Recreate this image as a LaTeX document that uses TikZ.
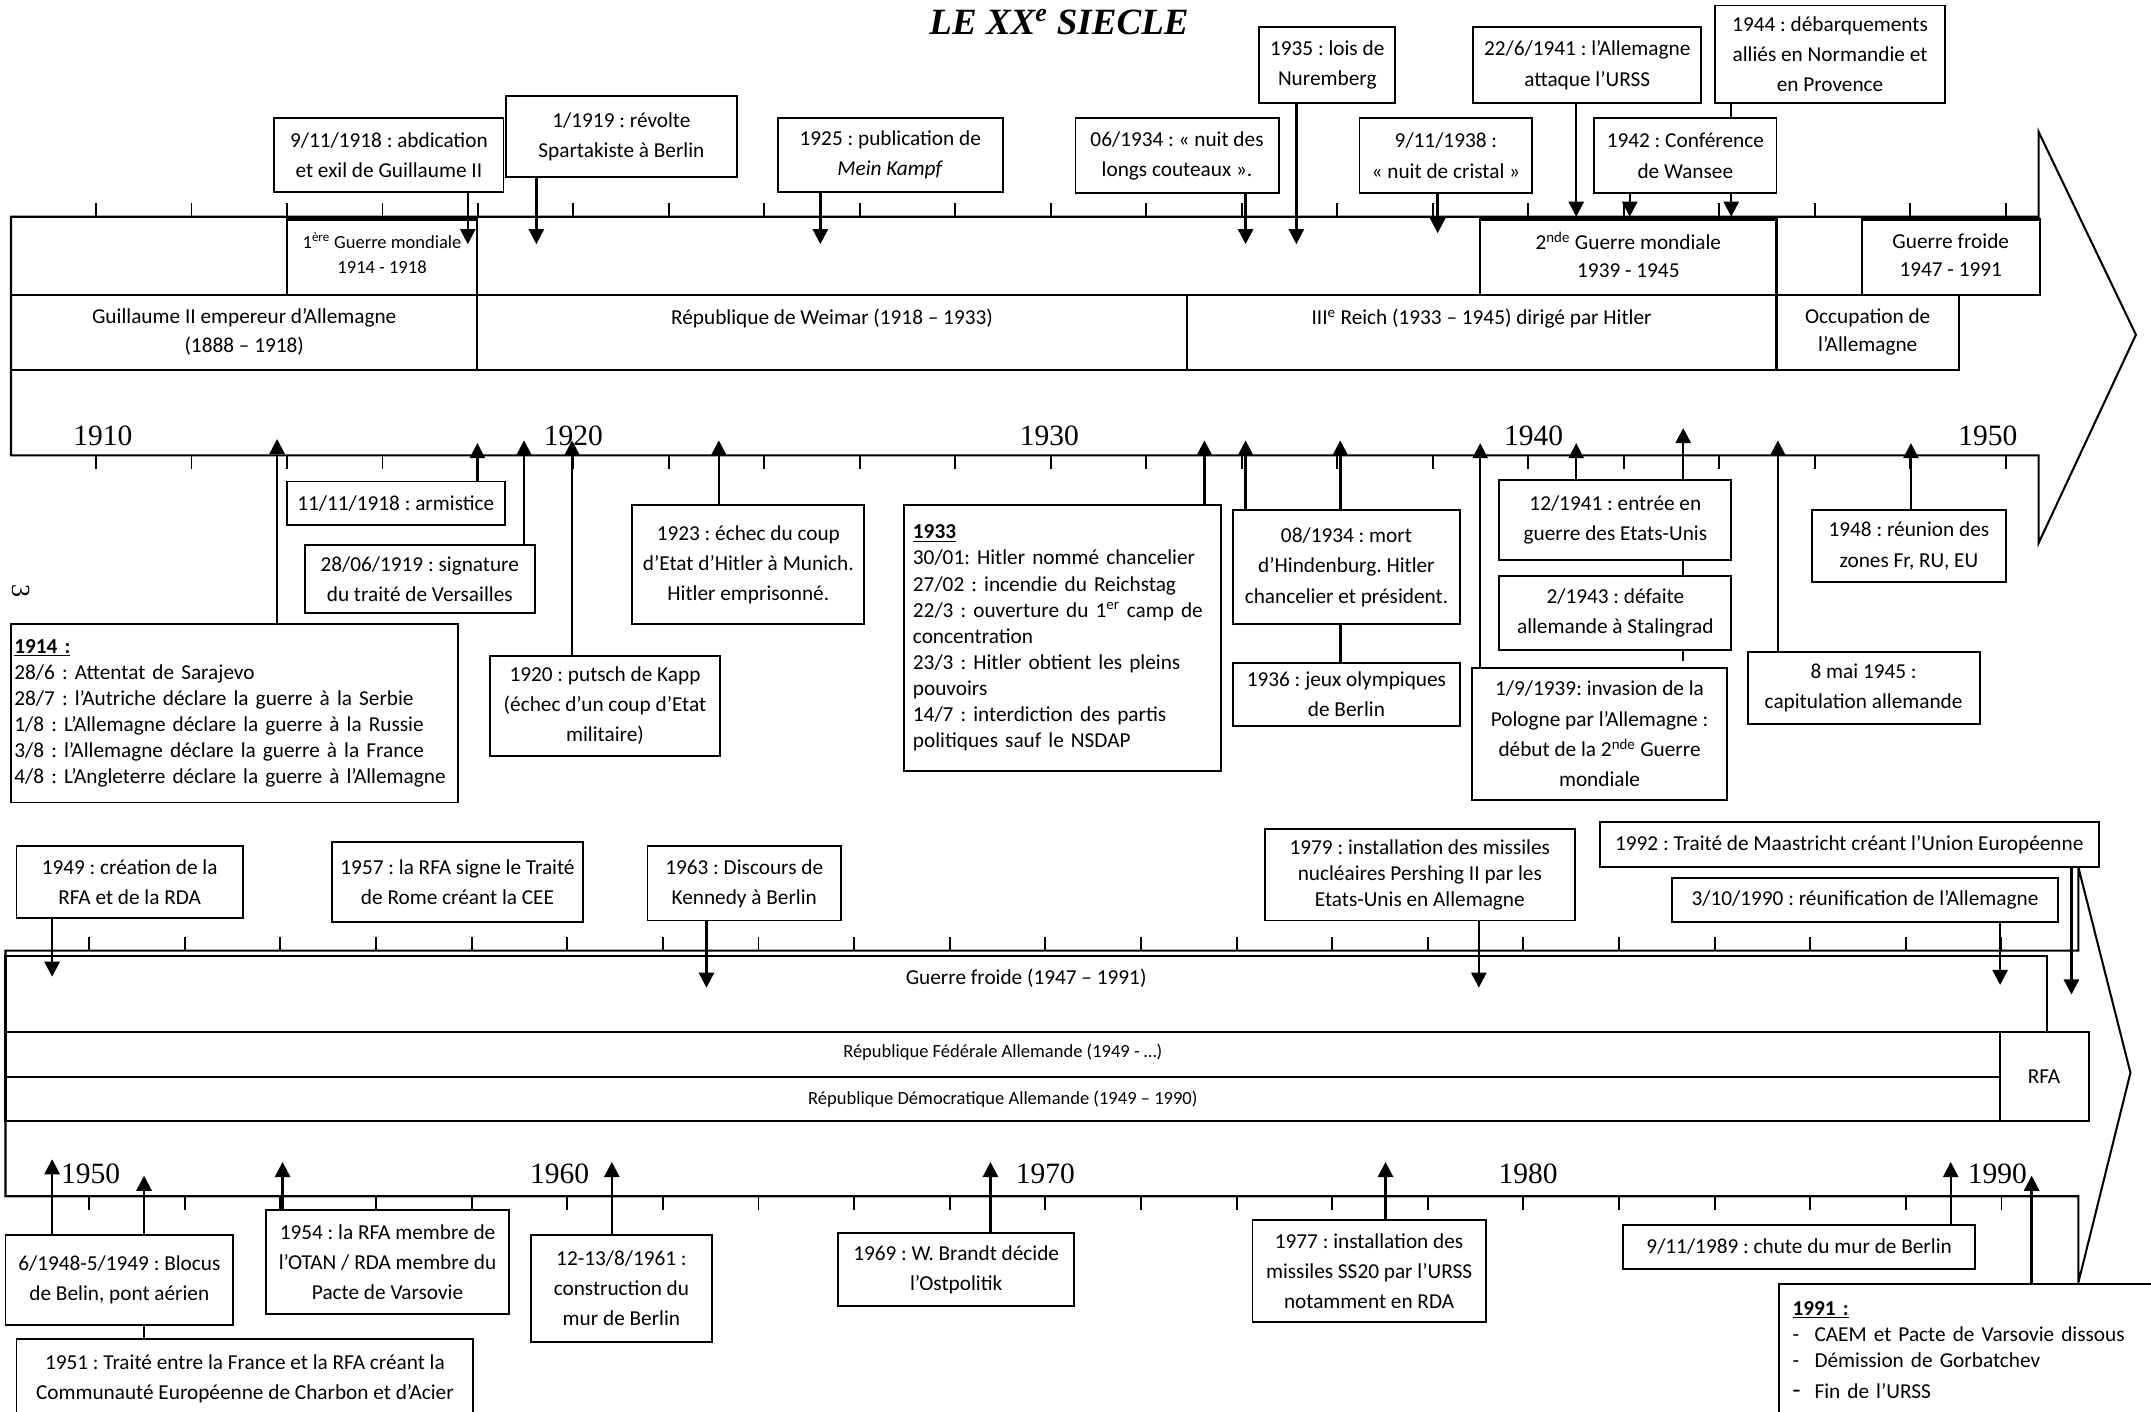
\documentclass[tikz,border=0pt]{standalone}
\usepackage{fontspec}
\setmainfont{Carlito}
\newfontfamily\seriffont{Liberation Serif}
\usetikzlibrary{arrows.meta,backgrounds}
\frenchspacing
\newcommand\evf{\fontsize{15.5}{22}\selectfont}
\newcommand\cellf{\fontsize{15.5}{20.5}\selectfont}
\newcommand\lsf{\fontsize{15.5}{19}\selectfont}
\newcommand\smf{\fontsize{13.5}{18}\selectfont}
\newcommand\yrf{\seriffont\fontsize{21.5}{22}\selectfont}
\begin{document}
\begin{tikzpicture}[x=1pt,y=-1pt,
  box/.style={draw, fill=white, line width=1.4pt, inner sep=0pt, align=center, font=\evf},
  lab/.style={inner sep=0pt, align=center, font=\cellf},
  arr/.style={line width=1.8pt, -{Triangle[length=11pt,width=11pt]}},
  frame/.style={line width=1.5pt},
  tickmark/.style={line width=1.4pt},
  yr/.style={inner sep=0pt, font=\yrf}]
\useasboundingbox (0,0) rectangle (1568,1029);

% title
\node[inner sep=0pt, font=\seriffont\bfseries\itshape\fontsize{27}{27}\selectfont] (title) at (772,16) {LE XX\textsuperscript{e} SIECLE};
\node[inner sep=0pt, rotate=-90, font=\seriffont\fontsize{19}{19}\selectfont] (pg) at (15,431) {3};

% ---------- upper time line ----------
\draw[frame] (8,158) -- (1486,158) -- (1486,96) -- (1557,244) -- (1486,396) -- (1486,332) -- (8,332) -- cycle;
\draw[frame] (209,160) rectangle (348,215);
\draw[frame] (1079,160) rectangle (1295,215);
\draw[frame] (1357,160) rectangle (1487,215);
\draw[frame] (8,215) -- (1487,215);
\draw[frame] (8,270) -- (1428,270) -- (1428,215);
\draw[frame] (348,215) -- (348,270);
\draw[frame] (865,215) -- (865,270);
\draw[frame] (1295,215) -- (1295,270);

\foreach \k in {0,...,20}{
  \draw[tickmark] ({70+69.6*\k},148) -- ({70+69.6*\k},158);
  \draw[tickmark] ({70+69.6*\k},332) -- ({70+69.6*\k},342);
  \draw[tickmark] ({65+69.7*\k},683) -- ({65+69.7*\k},693);
  \draw[tickmark] ({65+69.7*\k},872) -- ({65+69.7*\k},882);
}

\node[lab, font=\smf] (c1) at (278.5,184.5) {1\textsuperscript{ère} Guerre mondiale\\1914 - 1918};
\node[lab] (c2) at (1187,186) {2\textsuperscript{nde} Guerre mondiale\\1939 - 1945};
\node[lab] (c3) at (1422,186) {Guerre froide\\1947 - 1991};
\node[lab] (c4) at (178,242) {Guillaume II empereur d’Allemagne\\(1888 – 1918)};
\node[lab] (c5) at (606.5,232) {République de Weimar (1918 – 1933)};
\node[lab] (c6) at (1080,232) {III\textsuperscript{e} Reich (1933 – 1945) dirigé par Hitler};
\node[lab] (c7) at (1361.5,242) {Occupation de\\l’Allemagne};

\node[yr] (y1910) at (75,318) {1910};
\node[yr] (y1920) at (418,318) {1920};
\node[yr] (y1930) at (765,318) {1930};
\node[yr] (y1940) at (1118,318) {1940};
\node[yr] (y1950) at (1449,318) {1950};

% events above
\node[box, minimum width=167pt, minimum height=54pt] (n1) at (283.5,113) {9/11/1918 : abdication\\et exil de Guillaume II};
\node[box, minimum width=168pt, minimum height=59pt] (n2) at (453,99.5) {1/1919 : révolte\\Spartakiste à Berlin};
\node[box, minimum width=164pt, minimum height=54pt] (n3) at (649,113) {1925 : publication de\\\textit{Mein Kampf}};
\node[box, minimum width=148pt, minimum height=55pt] (n4) at (858,113.5) {06/1934 : « nuit des\\longs couteaux ».};
\node[box, minimum width=99pt, minimum height=55pt] (n5) at (967.5,47.5) {1935 : lois de\\Nuremberg};
\node[box, minimum width=126pt, minimum height=55pt] (n6) at (1054,113.5) {9/11/1938 :\\« nuit de cristal »};
\node[box, minimum width=166pt, minimum height=55pt] (n7) at (1157,47.5) {22/6/1941 : l’Allemagne\\attaque l’URSS};
\node[box, minimum width=168pt, minimum height=71pt] (n8) at (1334,39.5) {1944 : débarquements\\alliés en Normandie et\\en Provence};
\node[box, minimum width=133pt, minimum height=55pt] (n9) at (1228.5,113.5) {1942 : Conférence\\de Wansee};

% events below
\node[box, text width=321pt, minimum width=326pt, minimum height=130pt, align=left, font=\lsf] (b1) at (171,520) {\underline{\textbf{1914 :}}\\28/6 : Attentat de Sarajevo\\28/7 : l’Autriche déclare la guerre à la Serbie\\1/8 : L’Allemagne déclare la guerre à la Russie\\3/8 : l’Allemagne déclare la guerre à la France\\4/8 : L’Angleterre déclare la guerre à l’Allemagne};
\node[box, minimum width=159pt, minimum height=32pt] (b2) at (288.5,367) {11/11/1918 : armistice};
\node[box, minimum width=168pt, minimum height=50pt] (b3) at (306,422) {28/06/1919 : signature\\du traité de Versailles};
\node[box, minimum width=168pt, minimum height=73pt] (b4) at (441,514.5) {1920 : putsch de Kapp\\(échec d’un coup d’Etat\\militaire)};
\node[box, minimum width=169pt, minimum height=87pt] (b5) at (545.5,411.5) {1923 : échec du coup\\d’Etat d’Hitler à Munich.\\Hitler emprisonné.};
\node[box, text width=218pt, minimum width=231pt, minimum height=194pt, align=left, font=\lsf] (b6) at (774.5,465) {\underline{\textbf{1933}}\\30/01: Hitler nommé chancelier\\27/02 : incendie du Reichstag\\\makebox[218pt][s]{22/3 : ouverture du 1\textsuperscript{er} camp de}\\concentration\\\makebox[218pt][s]{23/3 : Hitler obtient les pleins}\\pouvoirs\\\makebox[218pt][s]{14/7 : interdiction des partis}\\politiques sauf le NSDAP};
\node[box, minimum width=165pt, minimum height=83pt] (b7) at (981.5,413.5) {08/1934 : mort\\d’Hindenburg. Hitler\\chancelier et président.};
\node[box, minimum width=165pt, minimum height=46pt] (b8) at (981.5,506) {1936 : jeux olympiques\\de Berlin};
\node[box, minimum width=186pt, minimum height=96pt] (b9) at (1166,535) {1/9/1939: invasion de la\\Pologne par l’Allemagne :\\début de la 2\textsuperscript{nde} Guerre\\mondiale};
\node[box, minimum width=169pt, minimum height=58pt] (b10) at (1177.5,379) {12/1941 : entrée en\\guerre des Etats-Unis};
\node[box, minimum width=169pt, minimum height=54pt] (b11) at (1177.5,447) {2/1943 : défaite\\allemande à Stalingrad};
\node[box, minimum width=169pt, minimum height=53pt] (b12) at (1358.5,501.5) {8 mai 1945 :\\capitulation allemande};
\node[box, minimum width=141pt, minimum height=52pt] (b13) at (1391.5,398) {1948 : réunion des\\zones Fr, RU, EU};

% ---------- lower time line ----------
\draw[frame] (4,693) -- (1515,693) -- (1515,632) -- (1553,782) -- (1515,935) -- (1515,872) -- (4,872) -- cycle;
\draw[frame] (4,697) rectangle (1492,752);
\draw[frame] (4,752) rectangle (1458,785);
\draw[frame] (4,785) rectangle (1458,817);
\draw[frame] (1458,752) rectangle (1523,817);

\node[lab] (gf) at (748,713) {Guerre froide (1947 – 1991)};
\node[lab, font=\smf] (rfa) at (731,767) {République Fédérale Allemande (1949 - …)};
\node[lab, font=\smf] (rda) at (731,801) {République Démocratique Allemande (1949 – 1990)};
\node[lab] (rfab) at (1490,785) {RFA};

\node[yr] (y2a) at (66,856) {1950};
\node[yr] (y2b) at (408,856) {1960};
\node[yr] (y2c) at (762,856) {1970};
\node[yr] (y2d) at (1114,856) {1980};
\node[yr] (y2e) at (1456,856) {1990};

\node[box, minimum width=165pt, minimum height=52pt] (d1) at (94.5,643) {1949 : création de la\\RFA et de la RDA};
\node[box, minimum width=183pt, minimum height=58pt] (d2) at (333.5,643) {1957 : la RFA signe le Traité\\de Rome créant la CEE};
\node[box, minimum width=141pt, minimum height=54pt] (d3) at (542.5,644) {1963 : Discours de\\Kennedy à Berlin};
\node[box, minimum width=226pt, minimum height=67pt, font=\lsf] (d4) at (1035,637.5) {1979 : installation des missiles\\nucléaires Pershing II par les\\Etats-Unis en Allemagne};
\node[box, minimum width=364pt, minimum height=33pt] (d5) at (1348,615.5) {1992 : Traité de Maastricht créant l’Union Européenne};
\node[box, minimum width=281pt, minimum height=32pt] (d6) at (1359.5,656) {3/10/1990 : réunification de l’Allemagne};

\node[box, minimum width=166pt, minimum height=66pt] (e1) at (87,933) {6/1948-5/1949 : Blocus\\de Belin, pont aérien};
\node[box, minimum width=333pt, minimum height=58pt] (e2) at (178.5,1005) {1951 : Traité entre la France et la RFA créant la\\Communauté Européenne de Charbon et d’Acier};
\node[box, minimum width=177pt, minimum height=76pt] (e3) at (282.5,920) {1954 : la RFA membre de\\l’OTAN / RDA membre du\\Pacte de Varsovie};
\node[box, minimum width=132pt, minimum height=78pt] (e4) at (453,939) {12-13/8/1961 :\\construction du\\mur de Berlin};
\node[box, minimum width=172pt, minimum height=53pt] (e5) at (697,925.5) {1969 : W. Brandt décide\\l’Ostpolitik};
\node[box, minimum width=170pt, minimum height=75pt] (e6) at (998,926.5) {1977 : installation des\\missiles SS20 par l’URSS\\notamment en RDA};
\node[box, minimum width=257pt, minimum height=32pt] (e7) at (1311.5,909) {9/11/1989 : chute du mur de Berlin};
\node[box, text width=256pt, minimum width=276pt, minimum height=97pt, align=left, font=\lsf, anchor=north west] (e8) at (1296,935) {\underline{\textbf{1991 :}}\\\makebox[16pt][l]{-}CAEM et Pacte de Varsovie dissous\\\makebox[16pt][l]{-}Démission de Gorbatchev\\[4pt]\makebox[16pt][l]{\fontsize{19}{19}\selectfont -}Fin de l’URSS};

% arrow end points
\coordinate (a1) at (341,178);
\coordinate (a2) at (391,178);
\coordinate (a3) at (598,178);
\coordinate (a4) at (908,178);
\coordinate (a5) at (945,178);
\coordinate (a6) at (1048,170);
\coordinate (a7) at (1149,158);
\coordinate (a8) at (1262,158);
\coordinate (a9) at (1188,158);
\coordinate (u1) at (202,320);
\coordinate (u2) at (348,323);
\coordinate (u3) at (382,321);
\coordinate (u4) at (417,321);
\coordinate (u5) at (524,321);
\coordinate (u6) at (878,321);
\coordinate (u7) at (908,321);
\coordinate (u8) at (977,321);
\coordinate (u9) at (1079,323);
\coordinate (u10) at (1149,323);
\coordinate (u11) at (1227,312);
\coordinate (s11) at (1227,482);
\coordinate (u12) at (1296,321);
\coordinate (u13) at (1393,323);
\coordinate (v1) at (38,712);
\coordinate (v3) at (515,720);
\coordinate (v4) at (1078,720);
\coordinate (v5) at (1510,725);
\coordinate (v6) at (1458,718);
\coordinate (w1) at (38,845);
\coordinate (w2) at (105,857);
\coordinate (w3) at (206,847);
\coordinate (w4) at (446,847);
\coordinate (w5) at (722,847);
\coordinate (w6) at (1010,847);
\coordinate (w7) at (1422,847);
\coordinate (w8) at (1481,857);

\begin{pgfonlayer}{background}
\draw[arr] (n1.south -| a1) -- (a1);
\draw[arr] (n2.south -| a2) -- (a2);
\draw[arr] (n3.south -| a3) -- (a3);
\draw[arr] (n4.south -| a4) -- (a4);
\draw[arr] (n5.south -| a5) -- (a5);
\draw[arr] (n6.south -| a6) -- (a6);
\draw[arr] (n7.south -| a7) -- (a7);
\draw[arr] (n8.south -| a8) -- (a8);
\draw[arr] (n9.south -| a9) -- (a9);
\draw[arr] (b1.north -| u1) -- (u1);
\draw[arr] (b2.north -| u2) -- (u2);
\draw[arr] (b3.north -| u3) -- (u3);
\draw[arr] (b4.north -| u4) -- (u4);
\draw[arr] (b5.north -| u5) -- (u5);
\draw[arr] (b6.north -| u6) -- (u6);
\draw[arr] (b7.north -| u7) -- (u7);
\draw[arr] (b8.north -| u8) -- (u8);
\draw[arr] (b9.north -| u9) -- (u9);
\draw[arr] (b10.north -| u10) -- (u10);
\draw[arr] (s11) -- (u11);
\draw[arr] (b12.north -| u12) -- (u12);
\draw[arr] (b13.north -| u13) -- (u13);
\draw[arr] (d1.south -| v1) -- (v1);
\draw[arr] (d3.south -| v3) -- (v3);
\draw[arr] (d4.south -| v4) -- (v4);
\draw[arr] (d5.south -| v5) -- (v5);
\draw[arr] (d6.south -| v6) -- (v6);
\draw[arr] (e1.north -| w1) -- (w1);
\draw[arr] (e2.north -| w2) -- (w2);
\draw[arr] (e3.north -| w3) -- (w3);
\draw[arr] (e4.north -| w4) -- (w4);
\draw[arr] (e5.north -| w5) -- (w5);
\draw[arr] (e6.north -| w6) -- (w6);
\draw[arr] (e7.north -| w7) -- (w7);
\draw[arr] (e8.north -| w8) -- (w8);
\end{pgfonlayer}
\end{tikzpicture}
\end{document}
